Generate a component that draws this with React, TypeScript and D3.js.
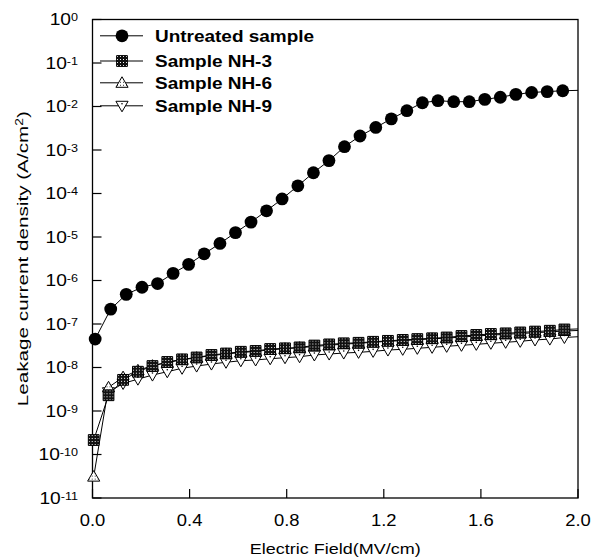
import React from "react";
import * as d3 from "d3";

// Electric field (MV/cm); the last entry (2.0) is the end of the drawn line, no marker there
const untreatedField = [
  0.011, 0.075, 0.139, 0.204, 0.268, 0.332, 0.396, 0.46, 0.525, 0.589, 0.653,
  0.717, 0.781, 0.846, 0.91, 0.974, 1.038, 1.102, 1.167, 1.231, 1.295, 1.359,
  1.423, 1.488, 1.552, 1.616, 1.68, 1.744, 1.809, 1.873, 1.937, 2.0,
];
const untreatedValues = [
  4.5e-8, 2.2e-7, 4.8e-7, 7.0e-7, 8.5e-7, 1.46e-6, 2.35e-6, 4.1e-6, 7.1e-6,
  1.26e-5, 2.2e-5, 4.0e-5, 7.5e-5, 1.5e-4, 3.0e-4, 5.7e-4, 1.19e-3, 2.1e-3,
  3.3e-3, 5.2e-3, 8.0e-3, 1.22e-2, 1.36e-2, 1.29e-2, 1.29e-2, 1.46e-2, 1.63e-2,
  1.9e-2, 2.1e-2, 2.2e-2, 2.3e-2, 2.35e-2,
];

const sampleField = [
  0.005, 0.066, 0.126, 0.187, 0.247, 0.308, 0.369, 0.429, 0.49, 0.55, 0.611,
  0.672, 0.732, 0.793, 0.853, 0.914, 0.975, 1.035, 1.096, 1.156, 1.217, 1.278,
  1.338, 1.399, 1.459, 1.52, 1.581, 1.641, 1.702, 1.762, 1.823, 1.884, 1.944,
  2.0,
];
const nh3Values = [
  2.15e-10, 2.3e-9, 5.2e-9, 8.0e-9, 1.08e-8, 1.34e-8, 1.54e-8, 1.7e-8, 1.94e-8,
  2.1e-8, 2.3e-8, 2.4e-8, 2.66e-8, 2.76e-8, 2.9e-8, 3.2e-8, 3.4e-8, 3.6e-8,
  3.7e-8, 3.9e-8, 4.1e-8, 4.3e-8, 4.5e-8, 4.7e-8, 4.9e-8, 5.3e-8, 5.6e-8,
  5.9e-8, 6.1e-8, 6.4e-8, 6.7e-8, 7.0e-8, 7.5e-8, 7.7e-8,
];
const nh6Values = [
  3.1e-11, 3.5e-9, 6.0e-9, 8.6e-9, 1.1e-8, 1.3e-8, 1.5e-8, 1.68e-8, 1.88e-8,
  2.05e-8, 2.2e-8, 2.35e-8, 2.55e-8, 2.7e-8, 2.85e-8, 3.05e-8, 3.25e-8,
  3.45e-8, 3.6e-8, 3.8e-8, 4.0e-8, 4.15e-8, 4.35e-8, 4.55e-8, 4.75e-8, 5.0e-8,
  5.3e-8, 5.55e-8, 5.8e-8, 6.05e-8, 6.3e-8, 6.6e-8, 6.9e-8, 7.1e-8,
];
const nh9Values = [
  null, 2.7e-9, 4.3e-9, 5.4e-9, 6.7e-9, 8.0e-9, 9.6e-9, 1.08e-8, 1.2e-8,
  1.32e-8, 1.43e-8, 1.49e-8, 1.59e-8, 1.68e-8, 1.77e-8, 1.94e-8, 2.04e-8,
  2.15e-8, 2.23e-8, 2.35e-8, 2.52e-8, 2.62e-8, 2.76e-8, 2.91e-8, 3.07e-8,
  3.24e-8, 3.41e-8, 3.6e-8, 3.8e-8, 4.0e-8, 4.3e-8, 4.5e-8, 4.9e-8, 5.1e-8,
];

const legendLabels = ["Untreated sample", "Sample NH-3", "Sample NH-6", "Sample NH-9"];
const xTicks = [0, 0.4, 0.8, 1.2, 1.6, 2.0];
const yExponents = [0, -1, -2, -3, -4, -5, -6, -7, -8, -9, -10, -11];

const W = 593;
const H = 560;
const plot = { left: 92.5, right: 578, top: 19.5, bottom: 498 };
const FONT = "'Liberation Sans', Arial, Helvetica, sans-serif";

const x = d3.scaleLinear().domain([0, 2]).range([plot.left, plot.right]);
const y = d3.scaleLog().domain([1e-11, 1]).range([plot.bottom, plot.top]);

type Pt = { e: number; v: number | null };

const zip = (f: number[], v: (number | null)[]): Pt[] =>
  f.map((e, i) => ({ e, v: v[i] }));

const line = d3
  .line<Pt>()
  .defined((d) => d.v != null)
  .x((d) => x(d.e))
  .y((d) => y(d.v as number));

const squarePath = d3.symbol(d3.symbolSquare, 116)()!;
const trianglePath = d3.symbol(d3.symbolTriangle, 64)()!;

const Marker = ({ kind, cx, cy }: { kind: number; cx: number; cy: number }) => {
  if (kind === 0)
    return <circle cx={cx} cy={cy} r={6.4} fill="#000" />;
  if (kind === 1)
    return (
      <path
        d={squarePath}
        transform={`translate(${cx},${cy})`}
        fill="url(#sqFill)"
        stroke="#000"
        strokeWidth={1}
      />
    );
  if (kind === 2)
    return (
      <path
        d={trianglePath}
        transform={`translate(${cx},${cy + 1})`}
        fill="url(#triFill)"
        stroke="#000"
        strokeWidth={1}
      />
    );
  return (
    <g transform={`translate(${cx},${cy - 1})`}>
      <path d={trianglePath} transform="rotate(180)" fill="#fff" stroke="#000" strokeWidth={1} />
      <circle cx={0} cy={-1} r={0.8} fill="#000" />
    </g>
  );
};

const series = [
  { kind: 0, data: zip(untreatedField, untreatedValues) },
  { kind: 1, data: zip(sampleField, nh3Values) },
  { kind: 2, data: zip(sampleField, nh6Values) },
  { kind: 3, data: zip(sampleField, nh9Values) },
];

// draw order of the markers: NH-9 below, squares on top, untreated last
const markerOrder = [3, 2, 1, 0];
const legendY = [35.8, 61, 82.8, 105.8];

export default function App() {
  return (
    <svg
      width={W}
      height={H}
      style={{ position: "absolute", left: 0, top: 0, background: "#fff" }}
      fontFamily={FONT}
    >
      <defs>
        <pattern id="sqFill" width={3} height={3} patternUnits="userSpaceOnUse">
          <rect width={3} height={3} fill="#111" />
          <rect x={1} y={1} width={1} height={1} fill="#fff" />
        </pattern>
        <pattern id="triFill" width={3} height={3} patternUnits="userSpaceOnUse">
          <rect width={3} height={3} fill="#fff" />
          <rect x={1} y={1} width={1} height={1} fill="#333" />
        </pattern>
      </defs>
      <rect width={W} height={H} fill="#fff" />

      {/* frame */}
      <rect
        x={plot.left}
        y={plot.top}
        width={plot.right - plot.left}
        height={plot.bottom - plot.top}
        fill="none"
        stroke="#000"
        strokeWidth={1.3}
      />

      {/* y ticks and labels */}
      {yExponents.map((p) => {
        const yy = y(Math.pow(10, p));
        return (
          <g key={p}>
            <line x1={plot.left} x2={plot.left + 9} y1={yy} y2={yy} stroke="#000" strokeWidth={1.2} />
            <g transform={`translate(78,${yy + 5.6}) scale(1.2,1)`}>
              <text textAnchor="end" fontSize={16} fill="#000">
                10
                <tspan dy={-4} fontSize={10.5}>
                  {p}
                </tspan>
              </text>
            </g>
          </g>
        );
      })}

      {/* x ticks and labels */}
      {xTicks.map((t) => (
        <g key={t}>
          <line x1={x(t)} x2={x(t)} y1={plot.bottom} y2={plot.bottom - 9} stroke="#000" strokeWidth={1.2} />
          <g transform={`translate(${x(t)},526) scale(1.15,1)`}>
            <text textAnchor="middle" fontSize={16} fill="#000">
              {d3.format(".1f")(t)}
            </text>
          </g>
        </g>
      ))}

      {/* axis titles */}
      <g transform={`translate(${(plot.left + plot.right) / 2},554) scale(1.2,1)`}>
        <text textAnchor="middle" fontSize={15} fill="#000">
          Electric Field(MV/cm)
        </text>
      </g>
      <g transform={`translate(28,${(plot.top + plot.bottom) / 2}) rotate(-90) scale(1.38,1)`}>
        <text textAnchor="middle" fontSize={15} fill="#000">
          Leakage current density (A/cm
          <tspan dy={-5} fontSize={10}>
            2
          </tspan>
          <tspan dy={5}>)</tspan>
        </text>
      </g>

      {/* lines */}
      {series.map((s) => (
        <path key={s.kind} d={line(s.data) || ""} fill="none" stroke="#000" strokeWidth={1} />
      ))}

      {/* markers */}
      {markerOrder.map((k) => (
        <g key={k}>
          {series[k].data
            .filter((d) => d.v != null && d.e < 2)
            .map((d, i) => (
              <Marker key={i} kind={k} cx={x(d.e)} cy={y(d.v as number)} />
            ))}
        </g>
      ))}

      {/* legend */}
      {legendLabels.map((label, i) => (
        <g key={label}>
          <line x1={100} x2={143} y1={legendY[i]} y2={legendY[i]} stroke="#000" strokeWidth={1} />
          <Marker kind={i} cx={122} cy={legendY[i]} />
          <g transform={`translate(155,${legendY[i] + 6}) scale(1.15,1)`}>
            <text fontSize={16.5} fontWeight="bold" fill="#000">
              {label}
            </text>
          </g>
        </g>
      ))}
    </svg>
  );
}
